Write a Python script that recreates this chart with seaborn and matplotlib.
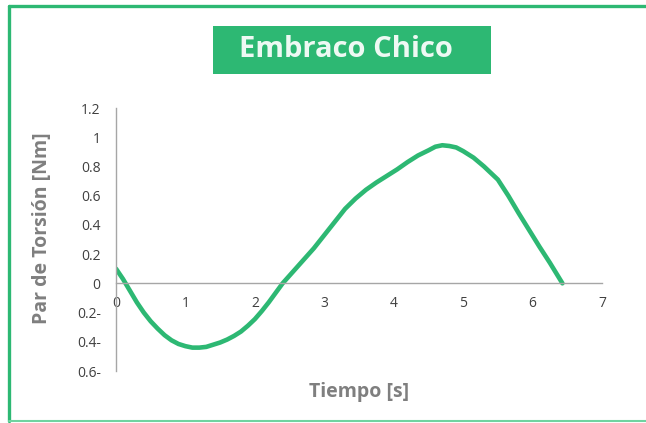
#!/usr/bin/env python3
"""Torque vs time curve for the Embraco Chico compressor."""

import matplotlib.pyplot as plt
import pandas as pd
import seaborn as sns
from matplotlib.lines import Line2D
from matplotlib.patches import Rectangle

# Values
tiempo = [0.0, 0.1, 0.2, 0.3, 0.4, 0.5, 0.6, 0.7, 0.8, 0.9, 1.0, 1.1, 1.2,
          1.3, 1.4, 1.5, 1.6, 1.7, 1.8, 1.9, 2.0, 2.1, 2.2, 2.3, 2.4, 2.55,
          2.7, 2.85, 3.0, 3.15, 3.3, 3.45, 3.6, 3.75, 3.9, 4.05, 4.2, 4.35,
          4.5, 4.6, 4.7, 4.8, 4.9, 5.0, 5.15, 5.3, 5.5, 5.65, 5.8, 5.95,
          6.1, 6.25, 6.43]
par = [0.10, 0.03, -0.05, -0.13, -0.20, -0.26, -0.31, -0.355, -0.39, -0.415,
       -0.43, -0.44, -0.44, -0.435, -0.42, -0.405, -0.385, -0.36, -0.33,
       -0.29, -0.245, -0.19, -0.13, -0.065, 0.0, 0.08, 0.16, 0.24, 0.33,
       0.42, 0.51, 0.58, 0.64, 0.69, 0.735, 0.78, 0.83, 0.875, 0.91, 0.935,
       0.945, 0.94, 0.93, 0.905, 0.86, 0.80, 0.71, 0.60, 0.48, 0.365, 0.25,
       0.14, 0.0]

y_ticks = [-0.6, -0.4, -0.2, 0, 0.2, 0.4, 0.6, 0.8, 1, 1.2]
y_labels = ["0.6-", "0.4-", "0.2-", "0", "0.2", "0.4", "0.6", "0.8", "1", "1.2"]
x_ticks = [0, 1, 2, 3, 4, 5, 6, 7]

GREEN = "#2db873"
AXIS_GRAY = "#a6a6a6"

sns.set_style("white")
plt.rcParams["font.family"] = ["Open Sans", "DejaVu Sans"]

df = pd.DataFrame({"tiempo": tiempo, "par": par})

fig = plt.figure(figsize=(6.46, 4.23), dpi=100)
ax = fig.add_axes([116 / 646, 1 - 371 / 423, (602 - 116) / 646, (371 - 108) / 423])

sns.lineplot(data=df, x="tiempo", y="par", sort=False, color=GREEN,
             linewidth=3.3, ax=ax, solid_capstyle="round",
             solid_joinstyle="round")

ax.set_xlim(0, 7)
ax.set_ylim(-0.6, 1.2)
ax.set_xticks(x_ticks)
ax.set_xticklabels([str(t) for t in x_ticks])
ax.set_yticks(y_ticks)
ax.set_yticklabels(y_labels)

for side in ("top", "right"):
    ax.spines[side].set_visible(False)
ax.spines["bottom"].set_position(("data", 0))
for side in ("bottom", "left"):
    ax.spines[side].set_color(AXIS_GRAY)
    ax.spines[side].set_linewidth(1.0)
ax.tick_params(axis="both", length=0, labelsize=10, labelcolor="#404040")
ax.tick_params(axis="x", pad=9)
ax.tick_params(axis="y", pad=11)

ax.set_xlabel("")
ax.set_ylabel("")
fig.text(359 / 646, 1 - 392 / 423, "Tiempo [s]", ha="center", va="center",
         fontsize=14, fontweight="bold", color="#7f7f7f")
fig.text(42 / 646, 1 - 228 / 423, "Par de Torsión [Nm]", ha="center",
         va="center", rotation=90, fontsize=14, fontweight="bold",
         color="#7f7f7f")

# Title banner
fig.patches.append(Rectangle((213 / 646, 1 - 74 / 423), (491 - 213) / 646,
                             48 / 423, transform=fig.transFigure,
                             facecolor=GREEN, edgecolor="none"))
fig.text(346 / 646, 1 - 49 / 423, "Embraco Chico", ha="center", va="center",
         fontsize=21, fontweight="bold", color="#eef9f3")

# Outer frame (top and left thick, bottom thin)
fig.lines.append(Line2D([9 / 646, 1.0], [1 - 6.5 / 423] * 2,
                        transform=fig.transFigure, color=GREEN, linewidth=2.4))
fig.lines.append(Line2D([9 / 646] * 2, [1 - 6 / 423, 1 - 421 / 423],
                        transform=fig.transFigure, color=GREEN, linewidth=2.4))
fig.lines.append(Line2D([9 / 646, 1.0], [1 - 421 / 423] * 2,
                        transform=fig.transFigure, color="#6fd3a0",
                        linewidth=1.5))

fig.savefig("out.png", dpi=100)
